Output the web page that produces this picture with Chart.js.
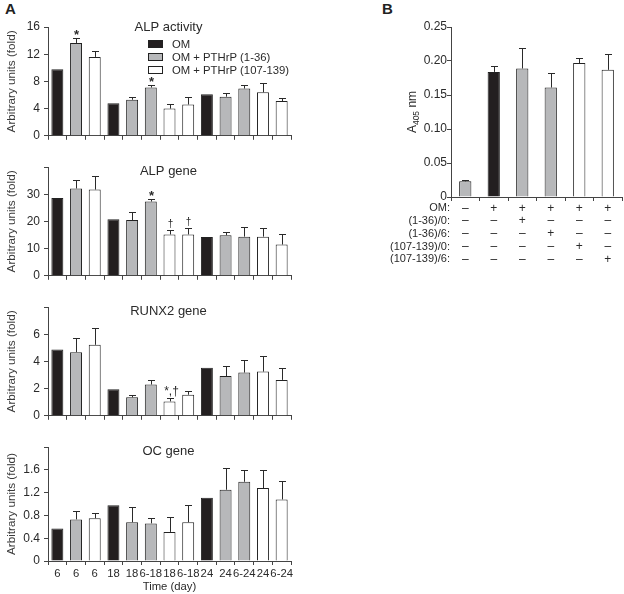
<!DOCTYPE html>
<html>
<head>
<meta charset="utf-8">
<script src="https://cdn.jsdelivr.net/npm/chart.js@4/dist/chart.umd.min.js"></script>
<style>
  html, body { margin: 0; padding: 0; background: #fff; }
  body { width: 624px; height: 594px; position: relative; overflow: hidden; font-family: "Liberation Sans", Arial, sans-serif; }
  canvas { position: absolute; }
  .plabel { position: absolute; font-weight: bold; font-size: 15px; color: #222; }
</style>
</head>
<body>
<div class="plabel" style="left:5px;top:0px;">A</div>
<div class="plabel" style="left:382px;top:0px;">B</div>
<canvas id="c0" width="300" height="140" style="left:0;top:7px;"></canvas>
<canvas id="c1" width="300" height="140" style="left:0;top:147px;"></canvas>
<canvas id="c2" width="300" height="140" style="left:0;top:287px;"></canvas>
<canvas id="c3" width="300" height="167" style="left:0;top:427px;"></canvas>
<canvas id="cb" width="244" height="270" style="left:380px;top:0;"></canvas>
<script>
/* Panel A: time course, Panel B: A405 */

const timeLabels = ['6', '6', '6', '18', '18', '6-18', '18', '6-18', '24', '24', '6-24', '24', '6-24'];
const treatment = [0, 1, 2, 0, 1, 1, 2, 2, 0, 1, 1, 2, 2];
const groupNames = ['OM', 'OM + PTHrP (1-36)', 'OM + PTHrP (107-139)'];

const alpActivity = [9.8, 13.65, 11.6, 4.8, 5.3, 7.1, 4.0, 4.6, 6.1, 5.75, 6.95, 6.4, 5.1];
const alpActivityErr = [0, 0.75, 0.9, 0, 0.45, 0.4, 0.7, 1.15, 0, 0.5, 0.45, 1.3, 0.4];
const alpActivityMarks = ['', '*', '', '', '', '*', '', '', '', '', '', '', ''];

const alpGene = [28.6, 32.1, 31.7, 20.8, 20.5, 27.3, 15.2, 15.2, 14.3, 14.9, 14.4, 14.4, 11.5];
const alpGeneErr = [0, 3.3, 5.0, 0, 3.0, 1.0, 1.5, 2.3, 0, 1.3, 3.6, 3.1, 3.7];
const alpGeneMarks = ['', '', '', '', '', '*', '†', '†', '', '', '', '', ''];

const runx2Gene = [4.87, 4.68, 5.22, 1.95, 1.36, 2.3, 1.06, 1.55, 3.53, 2.92, 3.18, 3.25, 2.64];
const runx2GeneErr = [0, 1.04, 1.2, 0, 0.14, 0.3, 0.24, 0.31, 0, 0.75, 0.89, 1.13, 0.84];
const runx2GeneMarks = ['', '', '', '', '', '', '*,†', '', '', '', '', '', ''];

const ocGene = [0.57, 0.73, 0.75, 0.98, 0.68, 0.66, 0.51, 0.68, 1.11, 1.25, 1.39, 1.28, 1.08];
const ocGeneErr = [0, 0.14, 0.09, 0, 0.26, 0.09, 0.27, 0.31, 0, 0.39, 0.21, 0.32, 0.33];
const ocGeneMarks = ['', '', '', '', '', '', '', '', '', '', '', '', ''];

// panel B
const bRowNames = ['OM:', '(1-36)/0:', '(1-36)/6:', '(107-139)/0:', '(107-139)/6:'];
const bOM      = ['–', '+', '+', '+', '+', '+'];
const b136at0  = ['–', '–', '+', '–', '–', '–'];
const b136at6  = ['–', '–', '–', '+', '–', '–'];
const b107at0  = ['–', '–', '–', '–', '+', '–'];
const b107at6  = ['–', '–', '–', '–', '–', '+'];
const bTreatment = [1, 0, 1, 1, 2, 2];
const bValues = [0.023, 0.184, 0.189, 0.161, 0.197, 0.187];
const bErr = [0.0025, 0.008, 0.030, 0.022, 0.008, 0.024];

const FONT = '"Liberation Sans", Arial, sans-serif';
const fills = ['#231f20', '#b7b8ba', '#ffffff'];
const axisColor = '#444';
const textColor = '#2a2a2a';

// error bars + significance marks
const errorBarPlugin = {
    id: 'errorBars',
    afterDatasetsDraw(chart) {
        const opts = chart.options.plugins.errorBars;
        if (!opts) return;
        const meta = chart.getDatasetMeta(0);
        const y = chart.scales.y;
        const ctx = chart.ctx;
        const vals = chart.data.datasets[0].data;
        ctx.save();
        ctx.strokeStyle = '#2a2a2a';
        ctx.lineWidth = 1;
        meta.data.forEach((bar, i) => {
            const e = opts.err[i] || 0;
            const top = y.getPixelForValue(vals[i] + e);
            const x = Math.round(bar.x) + 0.5;
            if (e > 0) {
                ctx.beginPath();
                ctx.moveTo(x, y.getPixelForValue(vals[i]));
                ctx.lineTo(x, Math.round(top) + 0.5);
                ctx.moveTo(x - 3.5, Math.round(top) + 0.5);
                ctx.lineTo(x + 3.5, Math.round(top) + 0.5);
                ctx.stroke();
            }
            const m = opts.marks ? opts.marks[i] : '';
            if (m) {
                ctx.fillStyle = textColor;
                ctx.textAlign = 'center';
                ctx.textBaseline = 'alphabetic';
                if (m === '†') {
                    ctx.font = '10px ' + FONT;
                    ctx.fillText(m, x, top - 3);
                } else if (m.length > 1) {
                    ctx.font = '12px ' + FONT;
                    ctx.fillText(m, x + 1, top - 3);
                } else {
                    ctx.font = 'bold 13px ' + FONT;
                    ctx.fillText(m, x, top + 1);
                }
            }
        });
        ctx.restore();
    }
};

// title inside plot + legend
const panelTextPlugin = {
    id: 'panelText',
    afterDraw(chart) {
        const o = chart.options.plugins.panelText;
        if (!o) return;
        const ctx = chart.ctx;
        const a = chart.chartArea;
        ctx.save();
        ctx.fillStyle = textColor;
        ctx.font = '13px ' + FONT;
        ctx.textAlign = 'center';
        ctx.textBaseline = 'middle';
        ctx.fillText(o.title, (a.left + a.right) / 2 - 1, a.top + o.dy);
        if (o.legend) {
            ctx.font = '11.3px ' + FONT;
            ctx.textAlign = 'left';
            groupNames.forEach((name, i) => {
                const cy = a.top + 17 + i * 13;
                ctx.fillStyle = fills[i];
                ctx.fillRect(148, cy - 4, 15, 8);
                ctx.strokeStyle = '#222';
                ctx.lineWidth = 1;
                ctx.strokeRect(148.5, cy - 3.5, 14, 7);
                ctx.fillStyle = textColor;
                ctx.fillText(name, 172, cy + 0.5);
            });
        }
        ctx.restore();
    }
};

function panelA(id, title, values, errs, marks, max, step, opts) {
    const last = opts.last;
    new Chart(document.getElementById(id), {
        type: 'bar',
        data: {
            labels: timeLabels,
            datasets: [{
                data: values,
                backgroundColor: treatment.map(t => fills[t]),
                borderColor: '#222',
                borderWidth: 1,
                barPercentage: 0.64,
                categoryPercentage: 1,
            }],
        },
        options: {
            responsive: false,
            animation: false,
            events: [],
            layout: { padding: { top: 20, right: 9, left: 0, bottom: 0 } },
            plugins: {
                legend: { display: false },
                tooltip: { enabled: false },
                errorBars: { err: errs, marks: marks },
                panelText: { title: title, dy: opts.dy, legend: opts.legend },
            },
            scales: {
                x: {
                    offset: true,
                    grid: { offset: true, drawOnChartArea: false, tickLength: 4, color: axisColor },
                    border: { color: axisColor },
                    ticks: {
                        display: last,
                        color: textColor,
                        font: { size: 11.3, family: FONT },
                        padding: 2,
                        maxRotation: 0,
                        autoSkip: false,
                    },
                    title: {
                        display: last,
                        text: 'Time (day)',
                        color: textColor,
                        font: { size: 11.3, family: FONT },
                        padding: { top: 0, bottom: 0 },
                    },
                    afterFit(s) { s.height = last ? 33 : 6; },
                },
                y: {
                    min: 0,
                    max: max,
                    grid: { drawOnChartArea: false, tickLength: 4, color: axisColor },
                    border: { color: axisColor },
                    ticks: {
                        stepSize: step,
                        color: textColor,
                        font: { size: 12, family: FONT },
                        padding: 4,
                        callback: (v) => (opts.hideTop && Math.abs(v - max) < 1e-9) ? '' : String(Math.round(v * 10) / 10),
                    },
                    title: {
                        display: true,
                        text: 'Arbitrary units (fold)',
                        color: '#3a3a3a',
                        font: { size: 11.7, family: FONT },
                        padding: { top: 5, bottom: 0 },
                    },
                    afterFit(s) { s.width = 48; },
                },
            },
        },
        plugins: [errorBarPlugin, panelTextPlugin],
    });
}

panelA('c0', 'ALP activity', alpActivity, alpActivityErr, alpActivityMarks, 16, 4, { dy: 0, legend: true, hideTop: false, last: false });
panelA('c1', 'ALP gene', alpGene, alpGeneErr, alpGeneMarks, 40, 10, { dy: 4, legend: false, hideTop: true, last: false });
panelA('c2', 'RUNX2 gene', runx2Gene, runx2GeneErr, runx2GeneMarks, 8, 2, { dy: 4, legend: false, hideTop: true, last: false });
panelA('c3', 'OC gene', ocGene, ocGeneErr, ocGeneMarks, 2, 0.4, { dy: 4, legend: false, hideTop: true, last: true });

// panel B: +/- table under the axis, subscripted y title
const bTablePlugin = {
    id: 'bTable',
    afterDraw(chart) {
        const ctx = chart.ctx;
        const xs = chart.scales.x;
        const f = chart.options.scales.x.ticks.font;
        const lh = f.size * f.lineHeight;
        ctx.save();
        ctx.fillStyle = textColor;
        ctx.font = '11px ' + FONT;
        ctx.textAlign = 'right';
        ctx.textBaseline = 'middle';
        bRowNames.forEach((name, i) => {
            ctx.fillText(name, xs.left - 1, xs.top + 4 + 1 + lh * (i + 0.5));
        });
        // y title: A405 nm
        ctx.translate(33, (chart.chartArea.top + chart.chartArea.bottom) / 2);
        ctx.rotate(-Math.PI / 2);
        ctx.textAlign = 'left';
        ctx.textBaseline = 'middle';
        const big = '12px ' + FONT, small = '8.5px ' + FONT;
        ctx.font = big;
        const wA = ctx.measureText('A').width;
        const wN = ctx.measureText(' nm').width;
        ctx.font = small;
        const wS = ctx.measureText('405').width;
        let x0 = -(wA + wS + wN) / 2;
        ctx.font = big;
        ctx.fillText('A', x0, 0);
        ctx.font = small;
        ctx.fillText('405', x0 + wA, 4);
        ctx.font = big;
        ctx.fillText(' nm', x0 + wA + wS, 0);
        ctx.restore();
    }
};

new Chart(document.getElementById('cb'), {
    type: 'bar',
    data: {
        labels: bOM.map((s, i) => [bOM[i], b136at0[i], b136at6[i], b107at0[i], b107at6[i]]),
        datasets: [{
            data: bValues,
            backgroundColor: bTreatment.map(t => fills[t]),
            borderColor: '#222',
            borderWidth: 1,
            barPercentage: 0.43,
            categoryPercentage: 1,
        }],
    },
    options: {
        responsive: false,
        animation: false,
        events: [],
        layout: { padding: { top: 27, right: 2, left: 0, bottom: 0 } },
        plugins: {
            legend: { display: false },
            tooltip: { enabled: false },
            errorBars: { err: bErr, marks: null },
        },
        scales: {
            x: {
                offset: true,
                grid: { offset: true, drawOnChartArea: false, tickLength: 4, color: axisColor },
                border: { color: axisColor },
                ticks: {
                    color: textColor,
                    font: { size: 12, family: FONT, lineHeight: 1.06 },
                    padding: 1,
                    maxRotation: 0,
                    autoSkip: false,
                },
                afterFit(s) { s.height = 73; },
            },
            y: {
                min: 0,
                max: 0.25,
                grid: { drawOnChartArea: false, tickLength: 4, color: axisColor },
                border: { color: axisColor },
                ticks: {
                    stepSize: 0.05,
                    color: textColor,
                    font: { size: 12, family: FONT },
                    padding: 0,
                    callback: (v) => v === 0 ? '0' : v.toFixed(2),
                },
                afterFit(s) { s.width = 71; },
            },
        },
    },
    plugins: [errorBarPlugin, bTablePlugin],
});
</script>
</body>
</html>
